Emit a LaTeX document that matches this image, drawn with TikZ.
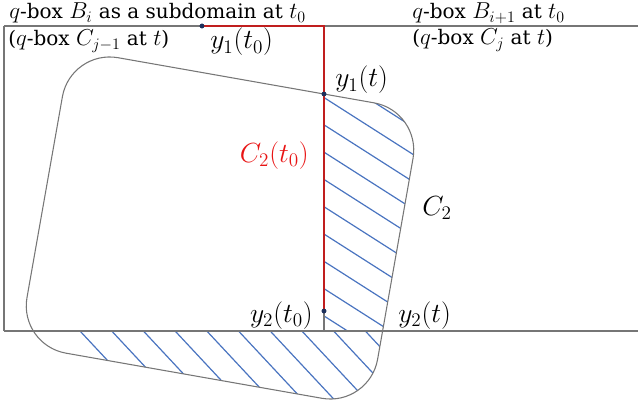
\documentclass[tikz,border=0pt]{standalone}
\usepackage{fontspec}
\setmainfont{DejaVu Serif}
\DeclareMathSizes{15}{18}{12.5}{10}
\DeclareMathSizes{16}{20}{14}{10}
\usepackage{tikz}
\usetikzlibrary{positioning}
\definecolor{boxgray}{RGB}{118,118,118}
\definecolor{edgered}{RGB}{192,30,30}
\definecolor{labelred}{RGB}{232,20,20}
\definecolor{hatchblue}{RGB}{74,116,192}
\definecolor{dotnavy}{RGB}{28,48,92}

\begin{document}
\begin{tikzpicture}[x=0.75pt, y=-0.75pt,
  boxline/.style={draw=boxgray, line width=0.9pt},
  redline/.style={draw=edgered, line width=1.4pt},
  ctwo/.style={shift={(220,228)}, rotate=-10, rounded corners=36pt},
  hatch/.style={draw=hatchblue, line width=0.9pt},
  lbl/.style={inner sep=0pt, font=\fontsize{15}{18}\selectfont},
  mlbl/.style={inner sep=0pt, font=\fontsize{16}{19}\selectfont},
  dot/.style={circle, fill=dotnavy, inner sep=0pt, minimum size=3.5pt}
]
  \useasboundingbox (0,0) rectangle (638,406);
  \coordinate (tl) at (4,26);
  \coordinate (tr) at (638,26);
  \coordinate (bl) at (4,331);
  \coordinate (br) at (638,331);
  \coordinate (tm) at (324,26);
  \coordinate (bm) at (324,331);

  % hatch, right of B_i
  \begin{scope}
    \clip[ctwo] (-178,-150) rectangle (178,150);
    \clip (bm) rectangle (700,0);
    \foreach \k in {-1,...,9}
      \draw[hatch] (320,{95+27.3*\k}) -- (450,{95+27.3*\k+83});
  \end{scope}
  % hatch, below B_i
  \begin{scope}
    \clip[ctwo] (-178,-150) rectangle (178,150);
    \clip (bl) rectangle (700,460);
    \foreach \k in {0,...,11}
      \draw[hatch] ({80+31.7*\k},331) -- ({80+31.7*\k+85},{331+91});
  \end{scope}

  % q-boxes
  \draw[boxline] (tl) -- (tr);
  \draw[boxline] (bl) -- (br);
  \draw[boxline] (tl) -- (bl);
  \draw[boxline] (tm) -- (bm);

  % C2
  \draw[ctwo, draw=boxgray, line width=0.8pt] (-178,-150) rectangle (178,150);

  \node[dot] (y1t0) at (202,26) {};
  \node[dot] (y1t) at (324,94) {};
  \node[dot] (y2t0) at (324,311) {};
  \draw[redline] (y1t0.center) -- (tm) -- (y2t0.center);
  \node[dot] at (y1t0) {};
  \node[dot] at (y1t) {};
  \node[dot] at (y2t0) {};

  % labels
  \node[lbl, anchor=base west] (bi) at (9,19) {$q$-box $B_i$ as a subdomain at $t_0$};
  \node[lbl, anchor=base west] (bnext) at (412,19) {$q$-box $B_{i+1}$ at $t_0$};
  \node[lbl, anchor=base west] (cprev) at (8,46) {($q$-box $C_{j-1}$ at $t$)};
  \node[lbl, anchor=base west] (cj) at (412,45) {($q$-box $C_j$ at $t$)};
  \node[mlbl, anchor=base west] (ly1t0) at (210,49) {$y_1(t_0)$};
  \node[mlbl, anchor=base west] (ly1t) at (335,87) {$y_1(t)$};
  \node[mlbl, anchor=base east, text=labelred] (lc2t0) at (309,162) {$C_2(t_0)$};
  \node[mlbl, anchor=base west] (lc2) at (422,215) {$C_2$};
  \node[mlbl, anchor=base east] (ly2t0) at (313,322) {$y_2(t_0)$};
  \node[mlbl, anchor=base west] (ly2t) at (398,322) {$y_2(t)$};
\end{tikzpicture}
\end{document}
